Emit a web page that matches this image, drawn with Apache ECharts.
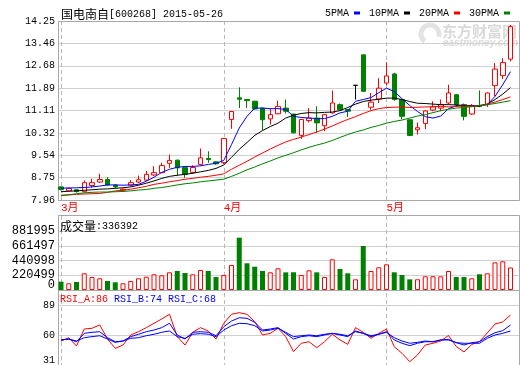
<!DOCTYPE html>
<html><head><meta charset="utf-8">
<script src="https://cdn.jsdelivr.net/npm/echarts@6/dist/echarts.min.js"></script>
<style>html,body{margin:0;padding:0;background:#fff}#c{width:520px;height:365px}</style>
</head><body><div id="c"></div>
<script>
const stockName = '国电南自';
const stockInfo = '[600268] 2015-05-26';
const volumeTitle = '成交量';
const maNames = ['5PMA', '10PMA', '20PMA', '30PMA'];
const rsiLegend = ['RSI_A:86', 'RSI_B:74', 'RSI_C:68'];

const dates = [
 '2015-03-03','2015-03-04','2015-03-05','2015-03-06','2015-03-09','2015-03-10','2015-03-11','2015-03-12','2015-03-13','2015-03-16',
 '2015-03-17','2015-03-18','2015-03-19','2015-03-20','2015-03-23','2015-03-24','2015-03-25','2015-03-26','2015-03-27','2015-03-30',
 '2015-03-31','2015-04-01','2015-04-02','2015-04-03','2015-04-07','2015-04-08','2015-04-09','2015-04-10','2015-04-13','2015-04-14',
 '2015-04-15','2015-04-16','2015-04-17','2015-04-20','2015-04-21','2015-04-22','2015-04-23','2015-04-24','2015-04-27','2015-04-28',
 '2015-04-29','2015-04-30','2015-05-04','2015-05-05','2015-05-06','2015-05-07','2015-05-08','2015-05-11','2015-05-12','2015-05-13',
 '2015-05-14','2015-05-15','2015-05-18','2015-05-19','2015-05-20','2015-05-21','2015-05-22','2015-05-25','2015-05-26'
];
const opens = [
 8.42,8.28,8.32,8.25,8.47,8.59,8.68,8.48,8.31,8.48,
 8.59,8.66,8.84,8.92,9.25,9.36,9.10,8.93,9.21,9.42,
 9.30,9.27,10.79,11.55,11.49,11.43,11.19,10.81,10.99,11.19,
 10.98,10.23,10.75,10.84,10.57,11.02,11.31,11.14,11.99,13.06,
 11.22,11.51,12.07,12.39,11.49,10.78,10.43,10.65,11.12,11.19,
 11.37,11.66,11.31,10.98,11.28,11.31,11.98,12.33,12.91
];
const closes = [
 8.33,8.37,8.26,8.57,8.57,8.68,8.49,8.42,8.34,8.57,
 8.67,8.86,8.92,9.17,9.35,9.09,8.86,9.10,9.44,9.38,
 9.23,10.12,11.07,11.50,11.45,11.16,10.78,10.96,11.25,11.08,
 10.32,10.79,10.84,10.67,10.96,11.37,11.13,11.08,11.99,11.78,
 11.40,11.89,12.32,11.49,10.90,10.23,10.50,11.09,11.23,11.31,
 11.72,11.31,10.90,11.28,11.25,11.72,12.56,12.79,14.05
];
const lows = [
 8.30,8.26,8.22,8.22,8.39,8.56,8.46,8.37,8.28,8.44,
 8.55,8.63,8.80,8.90,9.09,8.80,8.74,8.88,9.17,9.27,
 9.20,9.22,10.46,11.19,11.19,11.13,10.40,10.61,10.97,11.00,
 10.30,10.11,10.69,10.32,10.38,11.00,11.12,10.88,11.49,11.76,
 11.13,11.37,12.00,11.45,10.80,10.20,10.26,10.45,11.08,11.08,
 11.31,11.23,10.76,10.95,11.22,11.23,11.60,12.21,12.83
];
const highs = [
 8.44,8.40,8.34,8.65,8.71,8.88,8.76,8.52,8.36,8.66,
 8.82,8.98,9.15,9.27,9.56,9.38,9.12,9.18,9.77,9.67,
 9.32,10.14,11.08,11.92,11.49,11.45,11.20,11.17,11.45,11.49,
 10.98,10.80,11.19,11.25,10.98,11.81,11.35,11.16,11.99,13.06,
 11.72,12.24,12.80,12.43,11.50,10.80,10.68,11.12,11.43,11.49,
 12.01,11.69,11.35,11.33,11.81,11.74,12.77,12.94,14.11
];
const ma5 = [
 8.38,8.38,8.39,8.40,8.42,8.45,8.49,8.49,8.48,8.49,
 8.51,8.62,8.76,8.93,9.04,9.11,9.14,9.14,9.16,9.21,
 9.25,9.35,9.91,10.49,10.90,11.19,11.19,11.17,11.17,11.14,
 10.90,10.86,10.84,10.82,10.82,10.90,11.02,11.08,11.43,11.49,
 11.56,11.73,11.89,11.77,11.52,11.28,11.07,10.89,10.84,10.91,
 11.17,11.27,11.29,11.27,11.28,11.31,11.60,12.01,12.47
];
const ma10 = [
 8.25,8.27,8.28,8.30,8.32,8.34,8.35,8.37,8.39,8.42,
 8.48,8.55,8.63,8.72,8.79,8.83,8.86,8.90,8.95,9.00,
 9.07,9.19,9.46,9.74,9.98,10.23,10.40,10.54,10.66,10.84,
 10.94,11.00,11.03,11.02,11.04,11.05,11.10,11.21,11.33,11.42,
 11.47,11.50,11.54,11.54,11.49,11.42,11.36,11.35,11.33,11.31,
 11.31,11.30,11.28,11.26,11.26,11.33,11.49,11.68,11.91
];
const ma20 = [
 8.13,8.14,8.16,8.17,8.18,8.19,8.23,8.28,8.30,8.34,
 8.39,8.44,8.51,8.55,8.60,8.64,8.69,8.72,8.76,8.79,
 8.83,8.88,9.04,9.18,9.32,9.47,9.61,9.75,9.88,10.00,
 10.09,10.17,10.26,10.35,10.45,10.56,10.68,10.79,10.89,11.00,
 11.10,11.17,11.21,11.22,11.23,11.21,11.22,11.23,11.24,11.25,
 11.23,11.25,11.26,11.26,11.28,11.33,11.40,11.49,11.58
];
const ma30 = [
 8.11,8.14,8.18,8.21,8.23,8.24,8.24,8.25,8.26,8.28,
 8.31,8.33,8.37,8.40,8.44,8.49,8.53,8.56,8.60,8.63,
 8.66,8.69,8.79,8.90,9.02,9.12,9.23,9.33,9.44,9.53,
 9.62,9.72,9.81,9.89,9.96,10.05,10.16,10.26,10.35,10.42,
 10.51,10.58,10.66,10.72,10.77,10.84,10.91,10.96,11.03,11.10,
 11.15,11.19,11.21,11.24,11.28,11.31,11.35,11.40,11.45
];
const volumes = [
 124100,100200,119600,249600,194300,174900,134500,115100,100200,134500,
 174900,198800,234700,219800,264600,284000,254100,234700,299000,284000,
 194300,224200,373700,781800,399100,348300,284000,264600,324400,263800,
 265200,224200,294500,264100,194300,458900,313900,249600,160000,657800,
 284000,339300,384200,264600,224200,159500,160300,204800,205600,203900,
 284000,194300,193800,174900,234700,249600,414100,429000,336392
];
const rsiA = [
 54.2,57.4,49.4,65.8,66.5,69.7,56.1,47.1,50.3,60.0,
 63.2,67.1,71.3,75.5,80.0,58.4,50.3,62.6,67.1,63.9,
 56.1,71.3,80.0,81.6,80.0,72.9,60.0,61.6,66.5,58.4,
 43.9,52.0,53.5,47.7,53.5,60.7,55.2,51.0,67.1,62.6,
 56.8,61.6,65.8,48.7,42.3,34.2,40.7,50.3,52.0,54.2,
 59.5,48.9,43.6,50.8,53.7,61.9,70.6,72.6,79.3
];
const rsiB = [
 55.2,56.1,53.5,61.6,62.6,63.2,57.4,53.5,54.2,58.4,
 60.7,63.2,64.8,67.1,71.3,60.0,56.1,62.6,63.2,62.6,
 59.3,68.0,73.5,76.7,76.1,72.3,64.8,65.8,67.1,61.6,
 56.1,58.4,59.3,58.4,60.0,61.6,60.0,58.4,63.9,61.6,
 58.4,60.7,63.2,55.2,52.0,49.7,52.0,53.5,53.5,55.2,
 55.8,52.6,50.3,52.6,53.5,58.4,62.2,64.2,69.7
];
const rsiC = [
 55.2,56.1,54.2,57.4,58.4,59.3,56.1,52.9,54.2,56.8,
 57.4,59.3,60.7,62.6,63.9,58.4,56.8,60.7,61.3,60.7,
 58.4,64.8,69.0,71.3,70.9,69.0,63.9,64.8,66.5,62.6,
 58.4,59.3,60.0,59.3,60.7,61.6,60.7,59.3,63.2,61.6,
 59.3,60.7,62.6,57.4,54.2,52.0,52.9,54.2,53.5,55.2,
 55.2,52.6,52.0,52.0,52.0,56.8,60.0,61.6,63.9
];
const priceTicks = ['7.96','8.75','9.54','10.32','11.11','11.89','12.68','13.46','14.25'];
const volumeTicks = ['0','220499','440998','661497','881995'];
const rsiTicks = ['31','60','89'];

const PRICE_MIN = 7.96, PRICE_MAX = 14.25, PRICE_STEP = (PRICE_MAX - PRICE_MIN) / 8;
const VOL_MAX = 881995, VOL_STEP = VOL_MAX / 4;
const RSI_MIN = 31, RSI_MAX = 89, RSI_STEP = 29;

const RED = '#ff0000', GREEN = '#008000', BLUE = '#0000ff', BLACK = '#000000';
const GRID_C = '#d0d0d0', FRAME_C = '#a8a8a8', DASH_C = '#b8b8b8';
const MONO = "'Liberation Mono','DejaVu Sans Mono',monospace";
const CJK = "'Noto Sans CJK SC',sans-serif";
const MIXED = "'Liberation Mono','Noto Sans CJK SC',monospace";

const monthStart = dates.map((d, i) => i === 0 || d.slice(5, 7) !== dates[i - 1].slice(5, 7));

const candleData = opens.map((o, i) => {
  const item = { value: [o, closes[i], lows[i], highs[i]] };
  if (o === closes[i]) item.itemStyle = { color: BLACK, color0: BLACK, borderColor: BLACK, borderColor0: BLACK };
  return item;
});
const volumeData = volumes.map((v, i) => ({
  value: v,
  itemStyle: closes[i] >= opens[i]
    ? { color: '#ffffff', borderColor: RED, borderWidth: 1 }
    : { color: GREEN, borderColor: GREEN, borderWidth: 0 }
}));

const DL = 61, DR = 9.5; // data grid (first/last candle centres)
const FL = 58, FR = 1;   // frame grid (y axes)
const grids = [
  { left: FL, right: FR, top: 21, height: 179 },
  { left: DL, right: DR, top: 21, height: 179 },
  { left: FL, right: FR, top: 231, height: 59 },
  { left: DL, right: DR, top: 231, height: 59 },
  { left: FL, right: FR, top: 305, height: 60 },
  { left: DL, right: DR, top: 305, height: 60 },
  { left: DL, right: DR, top: 216, height: 149 },
  { left: FL, right: FR, top: 226, height: 59 }   // carries only the volume "0" label, lifted above the divider
].map(g => Object.assign({ show: false, containLabel: false, outerBoundsMode: 'none' }, g));

const hiddenValueX = gi => ({ gridIndex: gi, type: 'value', show: false, min: 0, max: 1 });
const dashSplit = { show: true, interval: (i) => monthStart[i], lineStyle: { color: DASH_C, type: [4, 3], width: 1 } };
const volLabelBase = { color: BLACK, fontSize: 12, fontFamily: MONO, margin: 3, showMinLabel: true, showMaxLabel: true, hideOverlap: false };

const option = {
  animation: false,
  backgroundColor: '#ffffff',
  grid: grids,
  legend: {
    data: maNames, right: 10, top: 8, padding: 0, itemWidth: 6, itemHeight: 3, itemGap: 9,
    icon: 'rect', align: 'right', selectedMode: false,
    textStyle: { fontSize: 10, fontFamily: MONO, color: BLACK, padding: [0, 0, 0, 0] }
  },
  xAxis: [
    hiddenValueX(0),
    { gridIndex: 1, type: 'category', data: dates, boundaryGap: false,
      axisLine: { show: false }, axisTick: { show: false },
      axisLabel: { interval: (i) => monthStart[i], formatter: (v) => (+v.slice(5, 7)) + '月',
        color: RED, fontSize: 11, fontFamily: MIXED, align: 'left', margin: 3 },
      splitLine: dashSplit },
    hiddenValueX(2),
    { gridIndex: 3, type: 'category', data: dates, boundaryGap: false, show: false },
    hiddenValueX(4),
    { gridIndex: 5, type: 'category', data: dates, boundaryGap: false, show: false },
    { gridIndex: 6, type: 'category', data: dates, boundaryGap: false,
      axisLine: { show: false }, axisTick: { show: false }, axisLabel: { show: false },
      splitLine: dashSplit },
    hiddenValueX(7)
  ],
  yAxis: [
    { gridIndex: 0, type: 'value', min: PRICE_MIN, max: PRICE_MAX, interval: PRICE_STEP,
      axisLine: { show: false }, axisTick: { show: false },
      axisLabel: { formatter: v => priceTicks[Math.round((v - PRICE_MIN) / PRICE_STEP)], color: BLACK, fontSize: 10, fontFamily: MONO, margin: 3,
        showMinLabel: true, showMaxLabel: true },
      splitLine: { lineStyle: { color: GRID_C } } },
    { gridIndex: 1, type: 'value', min: PRICE_MIN, max: PRICE_MAX, show: false },
    { gridIndex: 2, type: 'value', min: 0, max: VOL_MAX, interval: VOL_STEP,
      axisLine: { show: false }, axisTick: { show: false },
      axisLabel: Object.assign({ formatter: v => { const k = Math.round(v / VOL_STEP); return k === 0 ? '' : volumeTicks[k]; } }, volLabelBase),
      splitLine: { lineStyle: { color: GRID_C } } },
    { gridIndex: 3, type: 'value', min: 0, max: VOL_MAX, show: false },
    { gridIndex: 4, type: 'value', min: RSI_MIN, max: RSI_MAX, interval: RSI_STEP,
      axisLine: { show: false }, axisTick: { show: false },
      axisLabel: { formatter: v => { const k = Math.round((v - RSI_MIN) / RSI_STEP); return k === 0 ? '{lo|' + rsiTicks[0] + '}' : rsiTicks[k]; },
        color: BLACK, fontSize: 10, fontFamily: MONO, margin: 3, showMinLabel: true, showMaxLabel: true, hideOverlap: false,
        rich: { lo: { padding: [0, 0, 10, 0], fontSize: 10, fontFamily: MONO, color: BLACK } } },
      splitLine: { lineStyle: { color: GRID_C } } },
    { gridIndex: 5, type: 'value', min: RSI_MIN, max: RSI_MAX, show: false },
    { gridIndex: 6, type: 'value', min: 0, max: 1, show: false },
    { gridIndex: 7, type: 'value', min: 0, max: VOL_MAX, interval: VOL_STEP,
      axisLine: { show: false }, axisTick: { show: false }, splitLine: { show: false },
      axisLabel: Object.assign({ formatter: v => Math.round(v / VOL_STEP) === 0 ? volumeTicks[0] : '' }, volLabelBase) }
  ],
  graphic: [
    { type: 'rect', silent: true, z: 1, shape: { x: 58.5, y: 21.5, width: 461, height: 179 }, style: { fill: 'none', stroke: FRAME_C, lineWidth: 1 } },
    { type: 'rect', silent: true, z: 1, shape: { x: 58.5, y: 215.5, width: 461, height: 160 }, style: { fill: 'none', stroke: FRAME_C, lineWidth: 1 } },
    { type: 'line', silent: true, z: 1, shape: { x1: 58.5, y1: 290.5, x2: 519.5, y2: 290.5 }, style: { stroke: FRAME_C, lineWidth: 1 } },
    { type: 'arc', silent: true, z: 0, shape: { cx: 430, cy: 34, r: 9, startAngle: 2.2, endAngle: 6.6 }, style: { fill: 'none', stroke: '#e3e3e3', lineWidth: 5 } },
    { type: 'text', silent: true, z: 0, style: { x: 442, y: 31, text: '东方财富网', fill: '#dadada', font: 'bold 15px ' + CJK, verticalAlign: 'middle' } },
    { type: 'text', silent: true, z: 0, style: { x: 443, y: 43, text: 'eastmoney.com', fill: '#dadada', font: 'italic bold 10px "Liberation Sans",sans-serif', verticalAlign: 'middle' } },
    { type: 'text', silent: true, z: 5, style: { x: 61, y: 14, verticalAlign: 'middle',
        text: '{cn|' + stockName + '}{en|' + stockInfo + '}',
        rich: { cn: { fontSize: 12, fontFamily: CJK, fill: BLACK }, en: { fontSize: 10, fontFamily: MONO, fill: BLACK } } } },
    { type: 'text', silent: true, z: 5, style: { x: 60, y: 226, verticalAlign: 'middle',
        text: '{cn|' + volumeTitle + '}{en|:' + volumes[volumes.length - 1] + '}',
        rich: { cn: { fontSize: 12, fontFamily: CJK, fill: BLACK }, en: { fontSize: 10, fontFamily: MONO, fill: BLACK } } } },
    { type: 'text', silent: true, z: 5, style: { x: 60, y: 299, verticalAlign: 'middle',
        text: '{a|' + rsiLegend[0] + '} {b|' + rsiLegend[1] + '} {b|' + rsiLegend[2] + '}',
        font: '10px ' + MONO,
        rich: { a: { fontSize: 10, fontFamily: MONO, fill: RED }, b: { fontSize: 10, fontFamily: MONO, fill: BLUE } } } }
  ],
  series: [
    { type: 'candlestick', name: 'K', xAxisIndex: 1, yAxisIndex: 1, barWidth: 5, clip: false, data: candleData,
      itemStyle: { color: '#ffffff', color0: GREEN, borderColor: RED, borderColor0: GREEN, borderColorDoji: BLACK, borderWidth: 1 } },
    ...[[ma5, BLUE], [ma10, BLACK], [ma20, RED], [ma30, GREEN]].map(([d, c], k) => ({
      type: 'line', name: maNames[k], xAxisIndex: 1, yAxisIndex: 1, data: d, symbol: 'none', z: 3,
      itemStyle: { color: c }, lineStyle: { color: c, width: 1 }
    })),
    { type: 'bar', name: 'VOL', xAxisIndex: 3, yAxisIndex: 3, barWidth: 5, clip: false, data: volumeData },
    ...[[rsiA, RED], [rsiB, BLUE], [rsiC, BLUE]].map(([d, c], k) => ({
      type: 'line', name: 'RSI' + k, xAxisIndex: 5, yAxisIndex: 5, data: d, symbol: 'none',
      itemStyle: { color: c }, lineStyle: { color: c, width: 1 }
    }))
  ]
};
const chart = echarts.init(document.getElementById('c'), null, { renderer: 'canvas' });
chart.setOption(option);
</script>
</body></html>
